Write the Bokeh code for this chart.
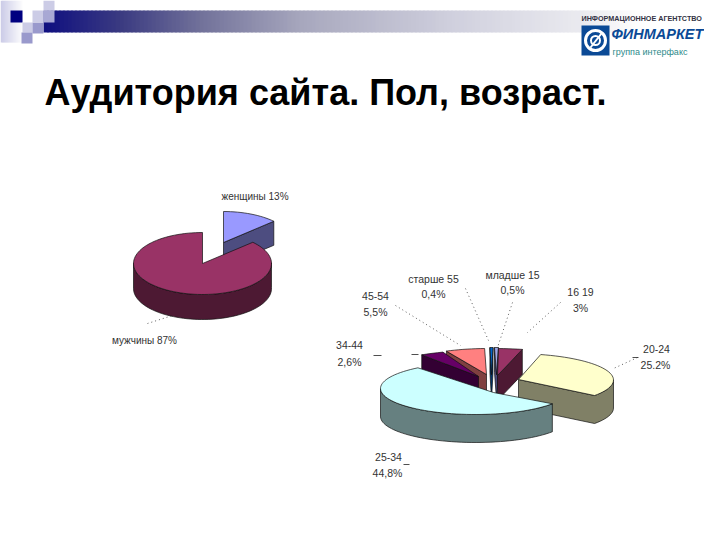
import math
from bokeh.plotting import figure
from bokeh.models import Range1d
from bokeh.core.properties import value
from bokeh.embed import file_html
from bokeh.resources import INLINE

# ---- data ----
title_text = "Аудитория сайта. Пол, возраст."
gender_labels = ["женщины 13%", "мужчины 87%"]
gender_values = [13, 87]
age_names = ["младше 15", "16 19", "20-24", "25-34", "34-44", "45-54", "старше 55"]
age_pct_text = ["0,5%", "3%", "25.2%", "44,8%", "2,6%", "5,5%", "0,4%"]
age_values = [0.5, 3, 25.2, 44.8, 2.6, 5.5, 0.4]

# ---- style / layout ----
gender_top = ["#9999FF", "#993366"]
gender_side = ["#4D4D80", "#4D1933"]
age_top = ["#9FA8E8", "#993366", "#FFFFCC", "#CCFFFF", "#660066", "#FF8080", "#0066CC"]
age_side = ["#4D4D80", "#4D1933", "#808066", "#668080", "#330033", "#804040", "#003366"]
# (ellipse cx, cy, rx, ry, apex x, apex y, depth)
gender_geo = [(223, 242, 69, 31, 223, 242, 24), (202, 263, 69, 31, 202, 263, 25)]
age_geo = [
    (494, 373, 100, 26, 496, 374, 25),
    (494, 373, 105, 25, 497, 375, 25),
    (514, 379.5, 99, 26.4, 518, 379, 28),
    (475, 388, 95, 26, 493, 392, 28),
    (497, 375, 125, 26, 478, 376, 25),
    (487, 374, 94, 26, 486, 374, 25),
    (492.5, 373, 100, 26, 491, 374, 25),
]
age_draw_order = [5, 4, 6, 0, 1, 2, 3]
bar_stops = [(43, (16, 16, 128)), (120, (60, 60, 130)), (200, (115, 115, 155)), (300, (168, 168, 190)),
             (450, (208, 208, 222)), (580, (235, 235, 240)), (640, (255, 255, 255))]

p = figure(width=704, height=524, output_backend="svg", toolbar_location=None,
           x_range=Range1d(0, 704), y_range=Range1d(524, 0), min_border=0,
           background_fill_color="white", border_fill_color="white")
p.axis.visible = False
p.grid.visible = False
p.outline_line_color = None


def arc_pts(geo, a0, a1):
    cx, cy, rx, ry = geo[:4]
    n = max(2, int(abs(a1 - a0) / 3) + 2)
    out = []
    for i in range(n):
        t = math.radians(a0 + (a1 - a0) * i / (n - 1))
        out.append((cx + rx * math.sin(t), cy - ry * math.cos(t)))
    return out


def draw_slice(geo, a0, a1, top, side):
    ax, ay, depth = geo[4:]
    poly = [(ax, ay)] + arc_pts(geo, a0, a1)
    n = len(poly)
    fwd = [poly[(i + 1) % n][0] < poly[i][0] for i in range(n)]
    # group contiguous viewer-facing edges into one wall each
    start = next((i for i in range(n) if not fwd[i]), 0)
    run = []
    walls = []
    for k in range(1, n + 1):
        i = (start + k) % n
        if fwd[i]:
            if not run:
                run = [poly[i]]
            run.append(poly[(i + 1) % n])
        elif run:
            walls.append(run)
            run = []
    if run:
        walls.append(run)
    for w in walls:
        xs = [q[0] for q in w] + [q[0] for q in reversed(w)]
        ys = [q[1] for q in w] + [q[1] + depth for q in reversed(w)]
        p.patch(xs, ys, fill_color=side, line_color="#111111", line_width=0.7)
    p.patch([q[0] for q in poly], [q[1] for q in poly], fill_color=top,
            line_color="#111111", line_width=0.7)


def angles(vals):
    tot = sum(vals)
    out, acc = [], 0
    for v in vals:
        out.append((acc / tot * 360, (acc + v) / tot * 360))
        acc += v
    return out


def bar_colour(x):
    for (x0, c0), (x1, c1) in zip(bar_stops, bar_stops[1:]):
        if x <= x1:
            f = (x - x0) / (x1 - x0)
            return "#%02x%02x%02x" % tuple(int(a + (b - a) * f) for a, b in zip(c0, c1))
    return "#ffffff"


# ---- header decoration ----
for x in range(43, 640, 4):
    p.quad(left=x, right=x + 5, top=10, bottom=32, fill_color=bar_colour(x), line_color=None)
for x in range(0, 22, 2):
    f = x / 22
    c = "#%02x%02x%02x" % (int(205 + 50 * f), int(205 + 50 * f), int(232 + 23 * f))
    p.quad(left=x, right=x + 3, top=0, bottom=42, fill_color=c, line_color=None)
squares = [(22, 32, 0, 22, "#FFFFFF"), (32, 43, 0, 10, "#FFFFFF"),
           (10, 22, 10, 22, "#000080"), (22, 32, 22, 32, "#CCCCE6"), (32, 43, 22, 33, "#9999CC"),
           (21, 32, 32, 43, "#9999CC"), (32, 43, 10, 22, "#CCCCE6"), (43, 54, 10, 22, "#A8A8D4"),
           (43, 54, 0, 10, "#CCCCE6")]
for l, r, t, b, c in squares:
    p.quad(left=l, right=r, top=t, bottom=b, fill_color=c, line_color=None)

# ---- logo ----
p.quad(left=581, right=609, top=25, bottom=55, fill_color="#0B4A96", line_color=None)
p.ellipse(x=[595], y=[40], width=20, height=20, fill_color=None, line_color="white", line_width=3)
p.ellipse(x=[595], y=[40], width=9, height=9, fill_color=None, line_color="white", line_width=2)
p.segment(x0=[590], y0=[47], x1=[601], y1=[33], line_color="white", line_width=2)
p.text(x=[581], y=[17.5], text=["ИНФОРМАЦИОННОЕ АГЕНТСТВО"], text_font=value("Liberation Sans"),
       text_font_size="7.2px", text_font_style="bold", text_color="#333344", text_baseline="middle")
p.text(x=[611], y=[33], text=["ФИНМАРКЕТ"], text_font=value("Liberation Sans"),
       text_font_size="14.5px", text_font_style="bold italic", text_color="#0B4A96", text_baseline="middle")
p.text(x=[612], y=[51], text=["группа интерфакс"], text_font=value("Liberation Sans"),
       text_font_size="9px", text_color="#2E8B8B", text_baseline="middle")

# ---- title ----
p.text(x=[44], y=[92], text=[title_text], text_font=value("Liberation Sans"), text_font_size="36px",
       text_font_style="bold", text_color="black", text_baseline="middle")

# ---- pies ----
ga = angles(gender_values)
for i in [0, 1]:
    draw_slice(gender_geo[i], ga[i][0], ga[i][1], gender_top[i], gender_side[i])
aa = angles(age_values)
for i in age_draw_order:
    draw_slice(age_geo[i], aa[i][0], aa[i][1], age_top[i], age_side[i])

# ---- leaders ----
leaders = [(147, 323, 172, 315), (395, 305, 460, 345), (465, 288, 488, 340), (512, 302, 497, 347),
           (560, 302, 527, 332), (637, 357, 613, 368)]
for x0, y0, x1, y1 in leaders:
    p.line([x0, x1], [y0, y1], line_color="#333333", line_width=0.8, line_dash="1 3")
dashes = [(373, 355, 381, 355), (411, 354, 418, 354), (403, 464, 409, 464), (632, 357, 638, 357)]
for x0, y0, x1, y1 in dashes:
    p.line([x0, x1], [y0, y1], line_color="#222222", line_width=0.8)

# ---- labels ----
def label(x, y, s, size="10.5px"):
    p.text(x=[x], y=[y], text=[s], text_font=value("Liberation Sans"), text_font_size=size,
           text_color="#333333", text_align="center", text_baseline="middle")

label(254.5, 196, gender_labels[0], "10px")
label(144, 340, gender_labels[1], "10px")
name_pos = [(512, 274), (580, 291), (656, 348), (388, 456), (349, 344), (375, 295), (433, 278)]
pct_pos = [(512, 289), (580, 307), (655, 364), (387, 472), (349, 361), (375, 311), (433, 293)]
for i in range(7):
    label(name_pos[i][0], name_pos[i][1], age_names[i])
    label(pct_pos[i][0], pct_pos[i][1], age_pct_text[i])

open("out.html", "w").write(file_html(p, INLINE))
